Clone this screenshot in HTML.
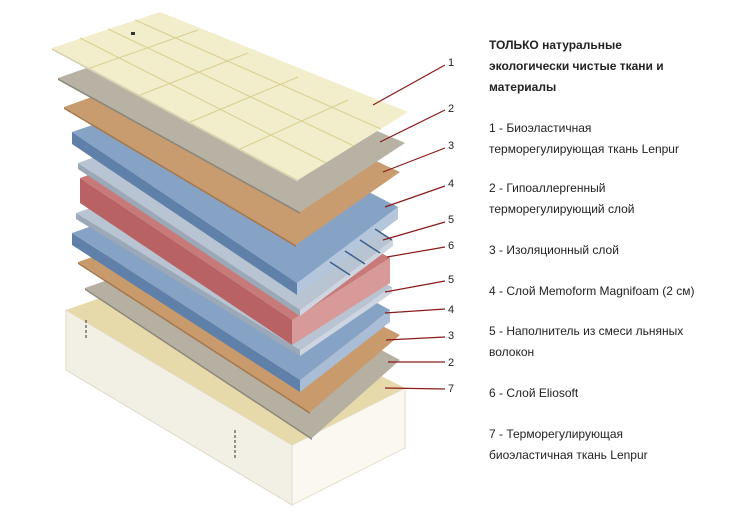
<!DOCTYPE html>
<html><head><meta charset="utf-8"><style>
html,body{margin:0;padding:0;background:#fff}
#w{position:relative;width:750px;height:520px;overflow:hidden;font-family:"Liberation Sans","DejaVu Sans",sans-serif;color:#222}
.t{position:absolute;left:489px;font-size:12px;line-height:21px;white-space:nowrap}
</style></head><body><div id="w">
<svg width="750" height="520" style="position:absolute;left:0;top:0">
<!-- base -->
<polygon points="66,310 292,445 292,505 66,370" fill="#f2efe4" stroke="#ddd8c8"/>
<polygon points="292,445 405,388 405,448 292,505" fill="#faf8f0" stroke="#e2ded0"/>
<polygon points="66,310 174,272 405,388 292,445" fill="#e6d9aa"/>
<line x1="86" y1="320" x2="86" y2="340" stroke="#333" stroke-dasharray="3,2"/>
<line x1="235" y1="430" x2="235" y2="460" stroke="#333" stroke-dasharray="3,2"/>
<!-- 2b grey -->
<polygon points="85,288 312,438 312,440 85,290" fill="#8d887c"/>
<polygon points="85,288 193,250 400,360 312,438" fill="#b6b0a3"/>
<!-- 3b tan -->
<polygon points="78,262 310,412 310,414 78,264" fill="#a8794c"/>
<polygon points="78,262 186,225 400,335 310,412" fill="#c89a6c"/>
<!-- 4b blue -->
<polygon points="72,233 300,380 300,392 72,245" fill="#5f80a8"/>
<polygon points="300,380 390,310 390,322 300,392" fill="#a9bdd6"/>
<polygon points="72,233 180,195 390,310 300,380" fill="#86a3c6"/>
<!-- 5b -->
<polygon points="76,213 300,350 300,356 76,219" fill="#9aa8b8"/>
<polygon points="300,350 392,287 392,293 300,356" fill="#ccd5e0"/>
<polygon points="76,213 184,175 392,287 300,350" fill="#b9c4d2"/>
<!-- 6 red -->
<polygon points="80,178 292,320 292,345 80,203" fill="#b86264"/>
<polygon points="292,320 390,258 390,283 292,345" fill="#d89a98"/>
<polygon points="80,178 188,140 390,258 292,320" fill="#c77a78"/>
<!-- 5a -->
<polygon points="78,163 300,310 300,316 78,169" fill="#9aa8b8"/>
<polygon points="300,310 393,240 393,246 300,316" fill="#ccd5e0"/>
<polygon points="78,163 186,125 393,240 300,310" fill="#b9c4d2"/>
<!-- 4 blue -->
<polygon points="72,132 297,283 297,295 72,144" fill="#5f80a8"/>
<polygon points="297,283 398,207 398,219 297,295" fill="#b3c6dc"/>
<polygon points="72,132 180,95 398,207 297,283" fill="#86a3c6"/>
<g stroke="#3e5f8a" stroke-width="1.5">
<line x1="330" y1="262" x2="350" y2="275"/><line x1="345" y1="251" x2="365" y2="264"/><line x1="360" y1="240" x2="380" y2="253"/><line x1="375" y1="229" x2="392" y2="240"/>
</g>
<!-- 3 tan -->
<polygon points="64,107 296,245 296,247 64,109" fill="#a8794c"/>
<polygon points="64,107 172,68 400,172 296,245" fill="#c99c6f"/>
<!-- 2 grey -->
<polygon points="58,78 300,212 300,214 58,80" fill="#8d887c"/>
<polygon points="58,78 166,40 405,143 300,212" fill="#b8b2a4"/>
<!-- 1 cream -->
<polygon points="52,48 298,180 298,182 52,50" fill="#d8d2b0"/>
<polygon points="52,48 160,12 408,112 298,180" fill="#f2edca"/>
<g stroke="#d8cf90" stroke-width="1">
<line x1="80" y1="38" x2="326" y2="163"/><line x1="108" y1="29" x2="354" y2="146"/><line x1="135" y1="20" x2="381" y2="129"/>
<line x1="90" y1="68" x2="198" y2="30"/><line x1="140" y1="95" x2="248" y2="53"/><line x1="190" y1="122" x2="298" y2="77"/><line x1="240" y1="149" x2="348" y2="100"/>
</g>
<rect x="131" y="32" width="4" height="3" fill="#333"/>
<!-- leader lines -->
<g stroke="#8b1a1a" stroke-width="1.2">
<line x1="373" y1="105" x2="445" y2="65"/>
<line x1="380" y1="142" x2="445" y2="110"/>
<line x1="383" y1="172" x2="445" y2="148"/>
<line x1="385" y1="207" x2="445" y2="186"/>
<line x1="383" y1="240" x2="445" y2="222"/>
<line x1="387" y1="257" x2="445" y2="247"/>
<line x1="385" y1="292" x2="445" y2="281"/>
<line x1="385" y1="313" x2="445" y2="309"/>
<line x1="386" y1="340" x2="445" y2="337"/>
<line x1="388" y1="362" x2="445" y2="362"/>
<line x1="385" y1="388" x2="445" y2="389"/>
</g>
<g font-family="Liberation Sans, sans-serif" font-size="11" fill="#222">
<text x="448" y="66">1</text><text x="448" y="112">2</text><text x="448" y="149">3</text><text x="448" y="187">4</text>
<text x="448" y="223">5</text><text x="448" y="249">6</text><text x="448" y="283">5</text><text x="448" y="313">4</text>
<text x="448" y="339">3</text><text x="448" y="366">2</text><text x="448" y="392">7</text>
</g>
</svg>
<div class="t" style="top:35px;font-weight:bold">ТОЛЬКО натуральные<br>экологически чистые ткани и<br>материалы</div>
<div class="t" style="top:118px">1 - Биоэластичная<br>терморегулирующая ткань Lenpur</div>
<div class="t" style="top:178px">2 - Гипоаллергенный<br>терморегулирующий слой</div>
<div class="t" style="top:240px">3 - Изоляционный слой</div>
<div class="t" style="top:281px">4 - Слой Memoform Magnifoam (2 см)</div>
<div class="t" style="top:321px">5 - Наполнитель из смеси льняных<br>волокон</div>
<div class="t" style="top:383px">6 - Слой Eliosoft</div>
<div class="t" style="top:424px">7 - Терморегулирующая<br>биоэластичная ткань Lenpur</div>
</div></body></html>
